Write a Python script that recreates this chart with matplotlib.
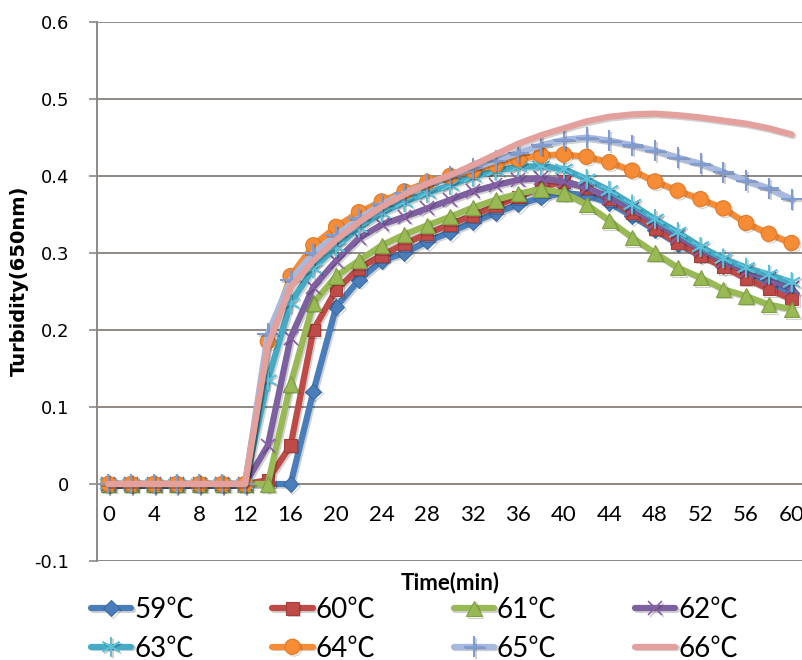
import matplotlib
matplotlib.use("Agg")
import matplotlib.pyplot as plt
import matplotlib.patheffects as pe

# ---------------------------------------------------------------------------
# data: turbidity (650 nm) read every 2 min for each reaction temperature
time_min = list(range(0, 61, 2))
x_labels = [str(t) for t in range(0, 61, 4)]
temps = ["59℃", "60℃", "61℃", "62℃", "63℃", "64℃", "65℃", "66℃"]

t59 = [0, 0, 0, 0, 0, 0, 0, 0, 0, 0.12, 0.23, 0.265, 0.29, 0.30, 0.315, 0.327,
       0.34, 0.352, 0.363, 0.372, 0.378, 0.375, 0.365, 0.348, 0.33, 0.312,
       0.297, 0.283, 0.27, 0.258, 0.248]
t60 = [0, 0, 0, 0, 0, 0, 0, 0.005, 0.05, 0.20, 0.252, 0.28, 0.297, 0.312,
       0.325, 0.337, 0.349, 0.361, 0.373, 0.385, 0.393, 0.385, 0.37, 0.352,
       0.332, 0.313, 0.297, 0.282, 0.267, 0.253, 0.24]
t61 = [0, 0, 0, 0, 0, 0, 0, 0, 0.13, 0.235, 0.27, 0.29, 0.31, 0.324, 0.336,
       0.347, 0.359, 0.369, 0.377, 0.383, 0.378, 0.363, 0.342, 0.32, 0.30,
       0.281, 0.268, 0.253, 0.244, 0.233, 0.227]
t62 = [0, 0, 0, 0, 0, 0, 0, 0.05, 0.19, 0.256, 0.29, 0.319, 0.337, 0.347,
       0.358, 0.369, 0.38, 0.388, 0.395, 0.397, 0.393, 0.385, 0.372, 0.357,
       0.34, 0.322, 0.305, 0.29, 0.277, 0.266, 0.255]
t63 = [0, 0, 0, 0, 0, 0, 0, 0.135, 0.235, 0.28, 0.308, 0.333, 0.352, 0.366,
       0.378, 0.388, 0.399, 0.407, 0.412, 0.413, 0.409, 0.396, 0.381, 0.363,
       0.344, 0.327, 0.308, 0.293, 0.281, 0.272, 0.262]
t64 = [0, 0, 0, 0, 0, 0, 0, 0.185, 0.27, 0.31, 0.334, 0.353, 0.367, 0.38,
       0.392, 0.40, 0.407, 0.415, 0.422, 0.427, 0.428, 0.425, 0.418, 0.407,
       0.393, 0.381, 0.37, 0.358, 0.339, 0.325, 0.313]
t65 = [0, 0, 0, 0, 0, 0, 0, 0.195, 0.265, 0.30, 0.323, 0.345, 0.363, 0.378,
       0.39, 0.40, 0.41, 0.42, 0.43, 0.44, 0.447, 0.45, 0.446, 0.44, 0.433,
       0.424, 0.416, 0.405, 0.394, 0.384, 0.37]
t66 = [0, 0, 0, 0, 0, 0, 0, 0.18, 0.256, 0.29, 0.317, 0.34, 0.36, 0.376,
       0.39, 0.401, 0.414, 0.428, 0.442, 0.453, 0.462, 0.471, 0.477, 0.48,
       0.481, 0.479, 0.476, 0.472, 0.468, 0.462, 0.454]
series = [t59, t60, t61, t62, t63, t64, t65, t66]

# ---------------------------------------------------------------------------
# styles (Excel-2007 look)
line_colors = ["#4A7EBB", "#BE4B48", "#98B954", "#7D60A0",
               "#46AAC5", "#F68C36", "#A7B9DE", "#E3A09D"]
markers = ["D", "s", "^", "x", (6, 2, 0), "o", "+", None]
marker_sizes = [8, 9, 11, 10, 14, 11, 15, 0]
marker_edge = ["#3B6BA6", "#A53D3A", "#7FA040", "#8A5FA8",
               "#5BC0DA", "#E07A28", "#7F9CD3", "#E3A09D"]
marker_ew = [0.8, 0.8, 0.8, 1.2, 1.2, 0.8, 1.5, 0]

grid_color = "#8E8985"
sans_cjk = ["Lato", "Noto Sans CJK SC", "DejaVu Sans"]

fig = plt.figure(figsize=(8.03, 6.6), dpi=100)
ax = fig.add_axes([97 / 803, 1 - 561 / 660, 706 / 803, 539 / 660])

handles = []
for i, ys in enumerate(series):
    (ln,) = ax.plot(
        time_min, ys,
        color=line_colors[i], lw=4.5,
        marker=markers[i], markersize=marker_sizes[i],
        markerfacecolor=line_colors[i] if markers[i] not in ("x", "+", (6, 2, 0)) else marker_edge[i],
        markeredgecolor=marker_edge[i], markeredgewidth=marker_ew[i],
        solid_capstyle="round", solid_joinstyle="round",
        label=temps[i], zorder=3 + i,
    )
    ln.set_path_effects([pe.SimpleLineShadow(offset=(1.2, -1.2), alpha=0.18), pe.Normal()])
    handles.append(ln)

# axes ranges: categories 0..60 every 2 min
ax.set_xlim(-1, 61)
ax.set_ylim(-0.1, 0.6)
ax.set_yticks([-0.1, 0, 0.1, 0.2, 0.3, 0.4, 0.5, 0.6])
ax.set_yticklabels(["-0.1", "0", "0.1", "0.2", "0.3", "0.4", "0.5", "0.6"])
ax.set_xticks(list(range(0, 61, 4)))
ax.set_xticklabels(x_labels)

ax.grid(axis="y", color=grid_color, lw=1.4)
ax.set_axisbelow(True)
for s in ("top", "right"):
    ax.spines[s].set_visible(False)
ax.spines["bottom"].set_position(("data", 0))
ax.spines["bottom"].set_color(grid_color)
ax.spines["bottom"].set_linewidth(1.4)
ax.spines["left"].set_color(grid_color)
ax.spines["left"].set_linewidth(1.4)

ax.tick_params(axis="x", length=0, pad=15, labelsize=16)
ax.tick_params(axis="y", length=6, width=1.2, color=grid_color, pad=14, labelsize=13)
for lab in ax.get_xticklabels():
    lab.set_family(sans_cjk)
for lab in ax.get_yticklabels():
    lab.set_family("DejaVu Sans")

ax.set_ylabel("Turbidity(650nm)", fontsize=14, fontweight="bold", family="DejaVu Sans")
ax.yaxis.set_label_coords(-0.096, 0.52)
ax.set_xlabel("Time(min)", fontsize=16, fontweight="bold", family=sans_cjk)
ax.xaxis.set_label_coords(0.5, -0.02)

# legend is filled row by row in the reference: reorder for matplotlib's column fill
order = [0, 4, 1, 5, 2, 6, 3, 7]
fig.legend(
    [handles[k] for k in order], [temps[k] for k in order], ncol=4, loc="upper left",
    bbox_to_anchor=(91 / 803, 1 - 597 / 660),
    frameon=False, prop={"family": sans_cjk, "size": 20},
    handlelength=1.45, handletextpad=0.1, columnspacing=2.82,
    labelspacing=0.45, borderpad=0, borderaxespad=0, numpoints=1,
)

fig.savefig("out.png", dpi=100)
